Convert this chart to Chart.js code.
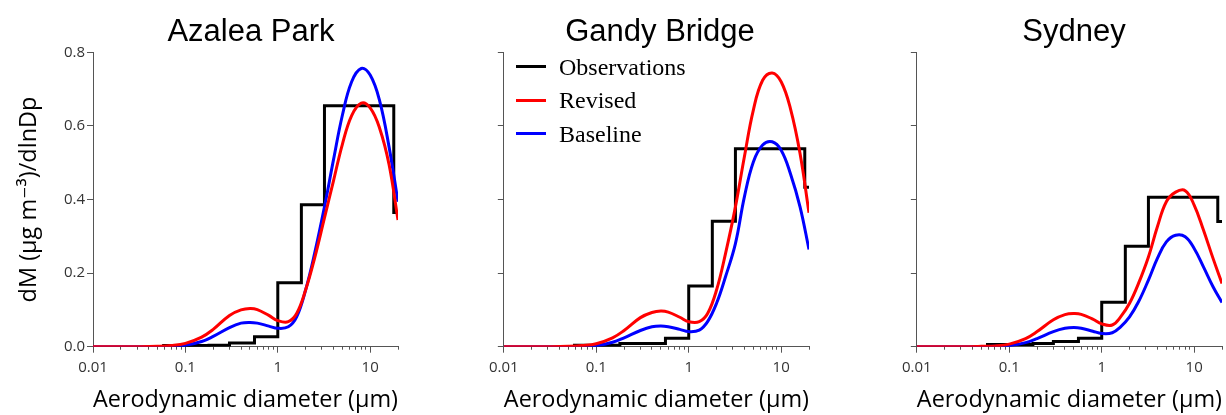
<!DOCTYPE html>
<html>
<head>
<meta charset="utf-8">
<script src="https://cdn.jsdelivr.net/npm/chart.js@4.4.0/dist/chart.umd.min.js"></script>
<style>
    html, body { margin: 0; padding: 0; background: #fff; }
    #wrap { position: relative; width: 1226px; height: 415px; overflow: hidden; }
    .panel { position: absolute; top: 0; height: 415px; }
    .site-title { position: absolute; top: 15px; width: 300px; text-align: center; font-family: "Liberation Sans", Arial, sans-serif; font-size: 31px; line-height: 1; color: #000; }
    #legend { position: absolute; left: 516px; top: 50px; font-family: "Liberation Serif", "Times New Roman", serif; font-size: 24px; line-height: 1; color: #000; }
    .legend-row { display: flex; align-items: center; height: 33.6px; }
    .swatch { width: 30px; height: 3px; margin-right: 13px; }
</style>
</head>
<body>
<div id="wrap">
    <div class="panel" style="left:0px;width:400px"><canvas id="chart0"></canvas></div>
    <div class="panel" style="left:483px;width:330px"><canvas id="chart1"></canvas></div>
    <div class="panel" style="left:896px;width:330px"><canvas id="chart2"></canvas></div>
    <div class="site-title" id="title0" style="left:101px"></div>
    <div class="site-title" id="title1" style="left:510px"></div>
    <div class="site-title" id="title2" style="left:924px"></div>
    <div id="legend"></div>
</div>
<script>
// 관측소 이름
const siteNames = ['Azalea Park', 'Gandy Bridge', 'Sydney'];

// 모델 곡선의 x 값 (µm)
const diameters = [0.01, 0.02, 0.03, 0.05, 0.07, 0.1, 0.15, 0.2, 0.3, 0.4, 0.5, 0.6, 0.8, 1, 1.3, 1.6, 2, 2.5, 3.2, 4, 5, 6.3, 8, 10, 12.6, 16, 20];

const azaleaRevised  = [0, 0, 0, 0.001, 0.003, 0.009, 0.026, 0.047, 0.085, 0.1, 0.104, 0.101, 0.085, 0.071, 0.068, 0.09, 0.154, 0.24, 0.35, 0.45, 0.55, 0.628, 0.662, 0.649, 0.595, 0.495, 0.344];
const azaleaBaseline = [0, 0, 0, 0, 0.001, 0.004, 0.014, 0.028, 0.052, 0.064, 0.066, 0.064, 0.056, 0.05, 0.054, 0.081, 0.154, 0.253, 0.38, 0.507, 0.629, 0.72, 0.756, 0.738, 0.67, 0.543, 0.394];

const gandyRevised  = [0, 0, 0, 0.001, 0.003, 0.008, 0.024, 0.044, 0.079, 0.093, 0.097, 0.094, 0.08, 0.068, 0.068, 0.09, 0.154, 0.253, 0.38, 0.516, 0.643, 0.724, 0.744, 0.72, 0.647, 0.525, 0.364];
const gandyBaseline = [0, 0, 0, 0, 0.001, 0.003, 0.012, 0.024, 0.044, 0.054, 0.056, 0.054, 0.047, 0.041, 0.045, 0.068, 0.118, 0.19, 0.28, 0.407, 0.502, 0.548, 0.557, 0.534, 0.47, 0.38, 0.264];

const sydneyRevised  = [0, 0, 0, 0.001, 0.002, 0.007, 0.022, 0.041, 0.073, 0.087, 0.09, 0.088, 0.075, 0.062, 0.059, 0.081, 0.118, 0.172, 0.244, 0.326, 0.394, 0.42, 0.424, 0.385, 0.317, 0.24, 0.172];
const sydneyBaseline = [0, 0, 0, 0, 0.001, 0.003, 0.011, 0.022, 0.041, 0.05, 0.052, 0.05, 0.042, 0.036, 0.038, 0.054, 0.081, 0.122, 0.181, 0.24, 0.285, 0.303, 0.299, 0.267, 0.217, 0.163, 0.12];

// 관측 (임팩터 구간 경계와 구간 값)
const binEdges = [0.056, 0.1, 0.18, 0.3, 0.56, 1.0, 1.8, 3.2, 18, 20];
const azaleaObs = [0.003, 0.003, 0.004, 0.01, 0.027, 0.174, 0.386, 0.655, 0.365];
const gandyObs  = [0.004, 0.004, 0.009, 0.009, 0.023, 0.165, 0.341, 0.538, 0.433];
const sydneyObs = [0.006, 0.006, 0.009, 0.014, 0.023, 0.121, 0.273, 0.406, 0.34];

// 축 눈금
const yTicks = [0, 0.2, 0.4, 0.6, 0.8];
const xMajorTicks = [0.01, 0.1, 1, 10];
const xTickLabels = ['0.01', '0.1', '1', '10'];
const xMinorTicks = [0.02, 0.03, 0.04, 0.05, 0.06, 0.07, 0.08, 0.09,
                     0.2, 0.3, 0.4, 0.5, 0.6, 0.7, 0.8, 0.9,
                     2, 3, 4, 5, 6, 7, 8, 9, 20];

const seriesNames = ['Observations', 'Revised', 'Baseline'];
const seriesColors = ['#000000', '#ff0000', '#0000ff'];

const AXIS_COLOR = '#555555';
const SANS = "'Open Sans', 'DejaVu Sans', sans-serif";

function makeChart(canvasId, obs, revised, baseline, showYLabels, yWidth, padRight) {
    const obsPoints = binEdges.map((e, i) => ({ x: e, y: obs[Math.min(i, obs.length - 1)] }));
    const revPoints = diameters.map((d, i) => ({ x: d, y: revised[i] }));
    const basePoints = diameters.map((d, i) => ({ x: d, y: baseline[i] }));

    new Chart(document.getElementById(canvasId), {
        type: 'line',
        data: {
            datasets: [
                { label: seriesNames[0], data: obsPoints, borderColor: seriesColors[0], borderWidth: 3, stepped: true, pointRadius: 0, order: 3, borderJoinStyle: 'miter' },
                { label: seriesNames[1], data: revPoints, borderColor: seriesColors[1], borderWidth: 3, tension: 0.4, pointRadius: 0, order: 1 },
                { label: seriesNames[2], data: basePoints, borderColor: seriesColors[2], borderWidth: 3, tension: 0.4, pointRadius: 0, order: 2 }
            ]
        },
        options: {
            responsive: true,
            maintainAspectRatio: false,
            animation: false,
            layout: { padding: { top: 52.3, right: padRight, left: 0, bottom: 0 } },
            plugins: { legend: { display: false }, tooltip: { enabled: false } },
            scales: {
                x: {
                    type: 'logarithmic', min: 0.01, max: 20, position: 'bottom', weight: 1,
                    afterBuildTicks: s => { s.ticks = xMajorTicks.map(v => ({ value: v })); },
                    afterFit: s => { s.height = 68.3; },
                    grid: { drawOnChartArea: false, tickLength: 6, color: AXIS_COLOR },
                    border: { color: AXIS_COLOR, width: 1 },
                    ticks: {
                        autoSkip: false, maxRotation: 0, padding: 6, color: '#333',
                        font: { family: SANS, size: 15 },
                        callback: v => xTickLabels[xMajorTicks.indexOf(v)]
                    },
                    title: {
                        display: true, text: 'Aerodynamic diameter (µm)', color: '#000',
                        font: { family: SANS, size: 23.5 }, padding: { top: 0, bottom: 1 }
                    }
                },
                x2: {
                    type: 'logarithmic', min: 0.01, max: 20, position: 'bottom', weight: 0,
                    afterBuildTicks: s => { s.ticks = xMinorTicks.map(v => ({ value: v })); },
                    afterFit: s => { s.height = 0; },
                    grid: { drawOnChartArea: false, tickLength: 3, color: AXIS_COLOR },
                    border: { display: false },
                    ticks: { display: false }
                },
                y: {
                    min: 0, max: 0.8,
                    afterBuildTicks: s => { s.ticks = yTicks.map(v => ({ value: v })); },
                    afterFit: s => { s.width = yWidth; },
                    grid: { drawOnChartArea: false, tickLength: 6, color: AXIS_COLOR },
                    border: { color: AXIS_COLOR, width: 1 },
                    ticks: {
                        display: showYLabels, padding: 2, color: '#333',
                        font: { family: SANS, size: 15 },
                        callback: v => v.toFixed(1)
                    },
                    title: {
                        display: showYLabels, text: 'dM (µg m⁻³)/dlnDp', color: '#000',
                        font: { family: SANS, size: 23.5 }, padding: { top: 15, bottom: 0 }
                    }
                }
            }
        }
    });
}

makeChart('chart0', azaleaObs, azaleaRevised, azaleaBaseline, true, 93, 2);
makeChart('chart1', gandyObs, gandyRevised, gandyBaseline, false, 20, 4);
makeChart('chart2', sydneyObs, sydneyRevised, sydneyBaseline, false, 20, 4);

siteNames.forEach((name, i) => { document.getElementById('title' + i).innerText = name; });

// 범례
const legend = document.getElementById('legend');
seriesNames.forEach((name, i) => {
    const row = document.createElement('div');
    row.className = 'legend-row';
    row.innerHTML = `<span class="swatch" style="background:${seriesColors[i]}"></span><span>${name}</span>`;
    legend.appendChild(row);
});
</script>
</body>
</html>
